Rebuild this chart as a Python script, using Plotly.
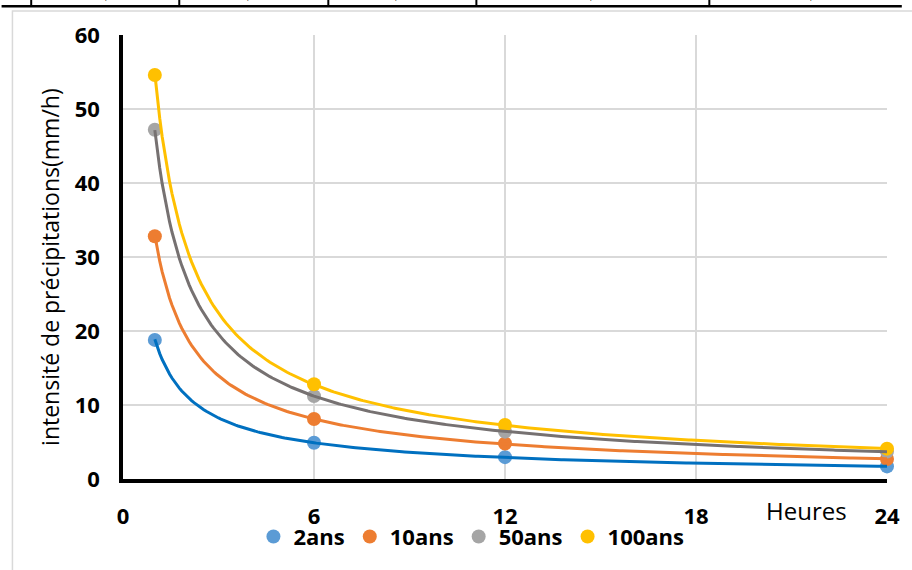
import numpy as np
import plotly.graph_objects as go

# ---- data ----
hours = [1, 6, 12, 24]
series_names = ["2ans", "10ans", "50ans", "100ans"]
v_2ans = [18.8, 4.9, 2.95, 1.7]
v_10ans = [32.8, 8.1, 4.8, 2.7]
v_50ans = [47.2, 11.2, 6.4, 3.7]
v_100ans = [54.6, 12.8, 7.3, 4.1]
x_ticks = [0, 6, 12, 18, 24]
y_ticks = [0, 10, 20, 30, 40, 50, 60]

marker_colors = ["#5B9BD5", "#ED7D31", "#A5A5A5", "#FFC000"]
line_colors = ["#0070C0", "#ED7D31", "#767171", "#FFC000"]
values = [v_2ans, v_10ans, v_50ans, v_100ans]

# plot area in pixels
L, R, T, B = 123, 897, 35, 481
W, H = 912, 570


def px(xp):
    return (xp - L) / (R - L)


def py(yp):
    return (B - yp) / (B - T)


fig = go.Figure()

# data points
for name, vals, mc in zip(series_names, values, marker_colors):
    fig.add_trace(go.Scatter(
        x=hours, y=vals, mode="markers", name=name,
        marker=dict(color=mc, size=14), cliponaxis=False,
    ))

# power trendlines (least squares in log-log space, like a spreadsheet trendline)
xs = np.linspace(min(hours), max(hours), 300)
for name, vals, lc in zip(series_names, values, line_colors):
    b, loga = np.polyfit(np.log(hours), np.log(vals), 1)
    ys = np.exp(loga) * xs ** b
    fig.add_trace(go.Scatter(
        x=xs, y=ys, mode="lines", showlegend=False, hoverinfo="skip",
        line=dict(color=lc, width=3), cliponaxis=False,
    ))

shapes = []
# chart-area border (light gray)
shapes.append(dict(type="rect", xref="paper", yref="paper",
                   x0=px(11), x1=px(930), y0=py(11), y1=py(590),
                   line=dict(color="#D9D9D9", width=1.5), layer="below"))
# remnants of the table above the chart
shapes.append(dict(type="line", xref="paper", yref="paper",
                   x0=px(0), x1=px(912), y0=py(6), y1=py(6),
                   line=dict(color="black", width=2.5)))
for xv in [30, 180, 331, 481, 717]:
    shapes.append(dict(type="line", xref="paper", yref="paper",
                       x0=px(xv), x1=px(xv), y0=py(-2), y1=py(6),
                       line=dict(color="black", width=2)))

annotations = [
    dict(text="intensité de précipitations(mm/h)", xref="paper", yref="paper",
         x=px(49), y=py(268), textangle=-90, showarrow=False,
         font=dict(family="Open Sans", size=23, color="black"),
         xanchor="center", yanchor="middle"),
    dict(text="Heures", xref="paper", yref="paper",
         x=px(815), y=py(513), showarrow=False,
         font=dict(family="Open Sans", size=24, color="black"),
         xanchor="center", yanchor="middle"),
]
for xv in [106, 250, 400, 597, 820]:
    annotations.append(dict(text=",", xref="paper", yref="paper",
                            x=px(xv), y=py(5), showarrow=False,
                            font=dict(family="Open Sans", size=9, color="black"),
                            xanchor="center", yanchor="bottom"))

fig.update_layout(
    width=W, height=H,
    margin=dict(l=L, r=W - R, t=T, b=H - B, pad=0),
    paper_bgcolor="white", plot_bgcolor="white",
    font=dict(family="Open Sans", color="black"),
    shapes=shapes, annotations=annotations,
    legend=dict(orientation="h", x=px(476), y=py(539), xanchor="center",
                yanchor="middle", font=dict(family="Open Sans", size=22,
                                            weight="bold", color="black"),
                itemwidth=30, bgcolor="rgba(0,0,0,0)", traceorder="normal"),
    xaxis=dict(range=[0, 24], tickmode="array", tickvals=x_ticks,
               ticktext=[str(t) for t in x_ticks],
               showgrid=True, gridcolor="#D9D9D9", gridwidth=1.5,
               showline=True, linecolor="black", linewidth=3.5,
               zeroline=False, ticks="", ticklabelstandoff=15,
               tickfont=dict(family="Open Sans", size=22, weight="bold", color="black")),
    yaxis=dict(range=[0, 60], tickmode="array", tickvals=y_ticks,
               showgrid=True, gridcolor="#D9D9D9", gridwidth=1.5,
               showline=True, linecolor="black", linewidth=3.5,
               zeroline=False, ticks="", ticklabelstandoff=15,
               tickfont=dict(family="Open Sans", size=22, weight="bold", color="black")),
)

fig.write_html("out.html")
